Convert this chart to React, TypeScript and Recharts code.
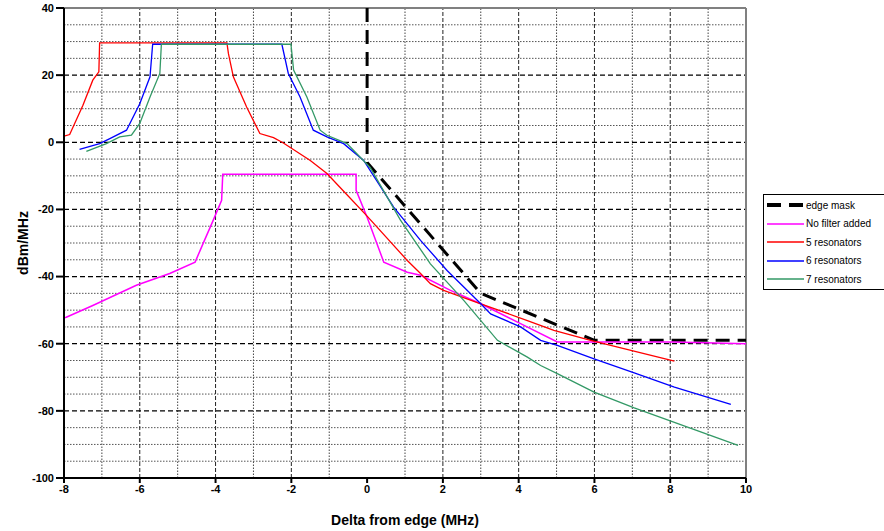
import React from "react";
import { LineChart, Line, XAxis, YAxis, ReferenceLine } from "recharts";

const xTicks = [-8, -6, -4, -2, 0, 2, 4, 6, 8, 10];
const yTicks = [-100, -80, -60, -40, -20, 0, 20, 40];
const majorY = [-80, -60, -40, -20, 0, 20];
const minorY = [35, 30, 25, 15, 10, 5, -5, -10, -15, -25, -30, -35, -45, -50, -55, -65, -70, -75, -85, -90, -95];
const majorX = [-6, -4, -2, 2, 4, 6, 8];
const minorX = [-7, -5, -3, -1, 1, 3, 5, 7, 9];

const edgeMask = [[0, 40], [0, -6], [3, -45], [6, -59], [10, -59]];
const noFilter = [[-8, -52.3], [-7.94, -52.1], [-7.24, -48.6], [-6.09, -42.6], [-5.21, -39.1], [-4.54, -35.7], [-4.33, -30.2], [-4.06, -23.2], [-3.84, -17.3], [-3.81, -9.5], [-0.29, -9.5], [-0.29, -14.3], [0, -22.3], [0.44, -35.7], [1.06, -38.7], [1.41, -39.6], [2.2, -44.1], [3.0, -48.1], [4.05, -54], [5.02, -59.5], [8.07, -59.5], [10, -60]];
const res5 = [[-8, 1.8], [-7.85, 2.3], [-7.5, 11], [-7.24, 18.5], [-7.08, 21], [-7.06, 29.6], [-3.7, 29.6], [-3.66, 26.4], [-3.53, 19.5], [-3.18, 10.5], [-2.83, 2.6], [-2.47, 1.4], [-2.21, -0.2], [-1.5, -5.4], [-1.06, -9.3], [-0.6, -14.8], [0, -22], [1.06, -35.2], [1.41, -39.1], [1.67, -42.1], [2.02, -44.1], [3.0, -48.1], [4.23, -53.1], [4.93, -56], [5.9, -59], [6.43, -60.5], [8.11, -65.2]];
const res6 = [[-7.59, -2.1], [-7.06, -0.4], [-6.79, 1.1], [-6.35, 3.6], [-6.0, 11.5], [-5.73, 19.5], [-5.66, 29.2], [-2.25, 29.2], [-2.08, 20.5], [-1.77, 13.5], [-1.42, 3.6], [-1.06, 1.6], [-0.62, -0.4], [-0.09, -5.4], [0.7, -19.3], [1.41, -29.2], [2.11, -38.2], [3.0, -48.1], [3.26, -51.1], [4.05, -55], [4.58, -59], [5.02, -60.5], [5.99, -64.5], [7.05, -68.7], [8.11, -72.9], [9.6, -78.1]];
const res7 = [[-7.41, -2.7], [-6.88, -0.4], [-6.53, 1.6], [-6.22, 2.1], [-6.0, 5.6], [-5.73, 13.5], [-5.47, 20.5], [-5.43, 29.2], [-2.01, 29.2], [-1.94, 21.5], [-1.59, 13.5], [-1.24, 3.6], [-1.06, 2.1], [-0.53, -0.4], [0.08, -7.5], [0.88, -23.2], [1.67, -36.2], [2.55, -47.1], [3.44, -59], [4.23, -64], [4.58, -66.5], [5.02, -68.9], [5.99, -74.4], [7.05, -79.1], [8.11, -83.4], [9.79, -90.3]];

const toPts = (a: number[][]) => a.map(([x, y]) => ({ x, y }));

const series = [
  { name: "edge mask", data: edgeMask, color: "#000000", width: 3, dash: "14 8" },
  { name: "No filter added", data: noFilter, color: "#ff00ff", width: 1.5, dash: undefined },
  { name: "5 resonators", data: res5, color: "#ff0000", width: 1.3, dash: undefined },
  { name: "6 resonators", data: res6, color: "#0000ff", width: 1.3, dash: undefined },
  { name: "7 resonators", data: res7, color: "#339966", width: 1.3, dash: undefined },
];

const FONT = "'Liberation Sans', Arial, sans-serif";

const LegendBox = () => (
  <div
    style={{
      position: "absolute",
      left: 763,
      top: 194,
      border: "1.5px solid #000",
      background: "#fff",
      width: 130,
      padding: "1px 0 0 3px",
      fontFamily: FONT,
      fontSize: 10,
      color: "#000",
    }}
  >
    {series.map((s) => (
      <div key={s.name} style={{ display: "flex", alignItems: "center", height: 18.5 }}>
        <svg width={37} height={8} style={{ marginRight: 2 }}>
          <line x1={0} y1={4} x2={37} y2={4} stroke={s.color} strokeWidth={s.dash ? 4 : 1.5} strokeDasharray={s.dash ? "14 8" : undefined} />
        </svg>
        <span>{s.name}</span>
      </div>
    ))}
  </div>
);

export default function App() {
  return (
    <div style={{ position: "absolute", left: 0, top: 0, width: 884, height: 531, background: "#fff", overflow: "hidden" }}>
      <LineChart width={884} height={531} margin={{ top: 8, right: 138, bottom: 23, left: 0 }}>
        {minorY.map((v) => (
          <ReferenceLine key={"my" + v} y={v} stroke="#555" strokeWidth={1} strokeDasharray="1.5 1.5" />
        ))}
        {minorX.map((v) => (
          <ReferenceLine key={"mx" + v} x={v} stroke="#444" strokeWidth={1} strokeDasharray="1.5 1.5" />
        ))}
        {majorX.map((v) => (
          <ReferenceLine key={"Mx" + v} x={v} stroke="#222" strokeWidth={1} strokeDasharray="4 2" />
        ))}
        {majorY.map((v) => (
          <ReferenceLine key={"My" + v} y={v} stroke="#000" strokeWidth={1.2} strokeDasharray="5 3" />
        ))}
        <ReferenceLine y={40} stroke="#808080" strokeWidth={2} />
        <ReferenceLine x={10} stroke="#808080" strokeWidth={2} />
        <XAxis
          type="number"
          dataKey="x"
          domain={[-8, 10]}
          ticks={xTicks}
          allowDataOverflow
          height={30}
          axisLine={{ stroke: "#000", strokeWidth: 2 }}
          tickLine={{ stroke: "#000", strokeWidth: 2 }}
          tickSize={5}
          tick={{ fill: "#000", fontSize: 11, fontWeight: "bold", fontFamily: FONT }}
          label={{ value: "Delta from edge (MHz)", position: "insideBottom", offset: -17, style: { fill: "#000", fontSize: 14, fontWeight: "bold", fontFamily: FONT } }}
        />
        <YAxis
          type="number"
          domain={[-100, 40]}
          ticks={yTicks}
          allowDataOverflow
          width={64}
          axisLine={{ stroke: "#000", strokeWidth: 2 }}
          tickLine={{ stroke: "#000", strokeWidth: 2 }}
          tickSize={8}
          tick={{ fill: "#000", fontSize: 11, fontWeight: "bold", fontFamily: FONT }}
          label={{ value: "dBm/MHz", angle: -90, position: "insideLeft", offset: 23, style: { fill: "#000", fontSize: 14, fontWeight: "bold", fontFamily: FONT, textAnchor: "middle" } }}
        />
        {series.map((s) => (
          <Line
            key={s.name}
            name={s.name}
            data={toPts(s.data)}
            dataKey="y"
            type="linear"
            stroke={s.color}
            strokeWidth={s.width}
            strokeDasharray={s.dash}
            dot={false}
            activeDot={false}
            isAnimationActive={false}
          />
        ))}
      </LineChart>
      <LegendBox />
    </div>
  );
}
